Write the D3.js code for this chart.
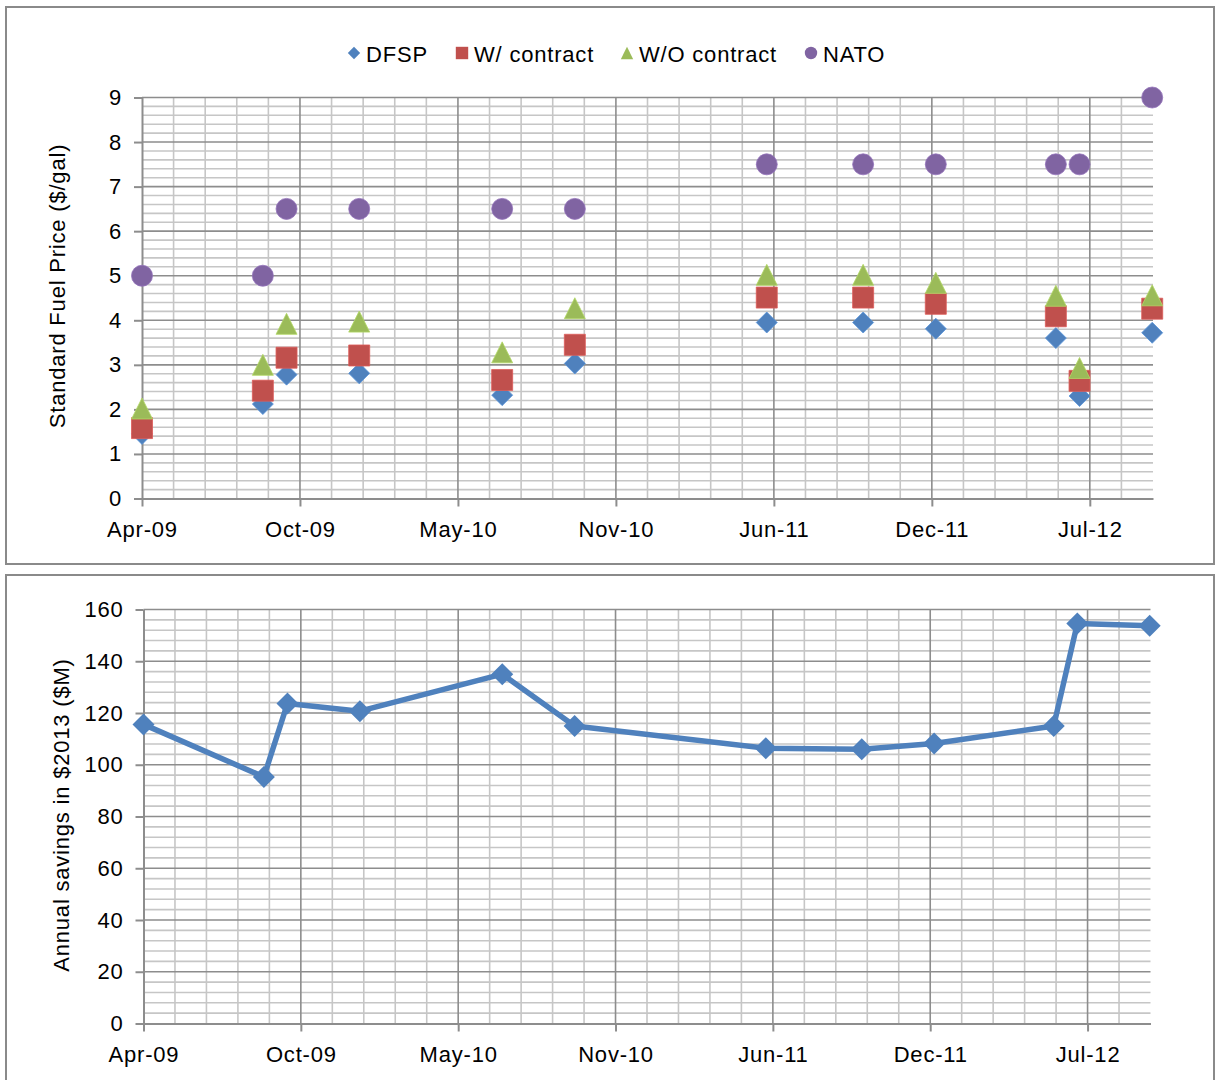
<!DOCTYPE html>
<html>
<head>
<meta charset="utf-8">
<script src="https://cdn.jsdelivr.net/npm/d3@7"></script>
<style>
  html, body { margin: 0; padding: 0; background: #fff; }
  svg text { font-family: "Liberation Sans", Arial, Helvetica, sans-serif; fill: #000; }
</style>
</head>
<body>
<svg id="chart" width="1217" height="1080"></svg>
<script>
// ---------------- DATA ----------------
const dates = ["2009-04-01","2009-09-01","2009-10-01","2010-01-01","2010-07-01","2010-10-01",
               "2011-06-01","2011-10-01","2012-01-01","2012-06-01","2012-07-01","2012-10-01"];
const dfsp       = [1.45, 2.12, 2.78, 2.81, 2.32, 3.03, 3.95, 3.95, 3.81, 3.60, 2.30, 3.72];
const withContract    = [1.58, 2.42, 3.16, 3.21, 2.66, 3.45, 4.51, 4.51, 4.37, 4.09, 2.64, 4.26];
const withoutContract = [2.02, 3.00, 3.92, 3.97, 3.28, 4.27, 5.02, 5.02, 4.84, 4.55, 2.93, 4.56];
const nato       = [5.0, 5.0, 6.5, 6.5, 6.5, 6.5, 7.5, 7.5, 7.5, 7.5, 7.5, 9.0];
const savings    = [115.6, 95.3, 123.7, 120.7, 135.0, 115.0, 106.4, 106.0, 108.2, 115.0, 154.6, 153.7];

const seriesNames = ["DFSP", "W/ contract", "W/O contract", "NATO"];
const xTickLabels = ["Apr-09","Oct-09","May-10","Nov-10","Jun-11","Dec-11","Jul-12"];
const priceTicks  = [0,1,2,3,4,5,6,7,8,9];
const savingTicks = [0,20,40,60,80,100,120,140,160];
const priceTitle  = "Standard Fuel Price ($/gal)";
const savingTitle = "Annual savings in $2013 ($M)";

// axis setup (Excel date axis: base in days)
const axisStart = "2009-04-01";
const axisSpanDays = 1280, majorDays = 200, minorDays = 40;

// ---------------- HELPERS ----------------
const DAY = 86400000;
const parse = d3.utcParse("%Y-%m-%d");
const t0 = parse(axisStart);
const t1 = new Date(t0.getTime() + axisSpanDays * DAY);
const majorDates = d3.range(0, axisSpanDays, majorDays).map(k => new Date(t0.getTime() + k * DAY));
const minorDates = d3.range(minorDays, axisSpanDays, minorDays).filter(k => k % majorDays !== 0)
                     .map(k => new Date(t0.getTime() + k * DAY));
const dateObjs = dates.map(parse);

const colors = { blue: "#4F81BD", red: "#C0504D", green: "#9BBB59", purple: "#8064A2" };
const MAJOR = "#8d8d8d", MINOR = "#c6c6c6";
const FONT = 22, LS = "0.8px";

const svg = d3.select("#chart");
svg.append("rect").attr("width", 1217).attr("height", 1080).attr("fill", "#fff");

// panel borders
svg.append("rect").attr("x", 6).attr("y", 7).attr("width", 1208).attr("height", 557)
   .attr("fill", "none").attr("stroke", "#8a8a8a").attr("stroke-width", 2);
svg.append("rect").attr("x", 6).attr("y", 575).attr("width", 1208).attr("height", 520)
   .attr("fill", "none").attr("stroke", "#8a8a8a").attr("stroke-width", 2);

function marker(type, s) {
  if (type === "diamond") return `M0,${-s}L${s},0L0,${s}L${-s},0Z`;
  if (type === "square") return `M${-s},${-s}H${s}V${s}H${-s}Z`;
  if (type === "triangle") return `M0,${-s}L${s},${s}L${-s},${s}Z`;
  return d3.arc()({innerRadius: 0, outerRadius: s, startAngle: 0, endAngle: 2 * Math.PI});
}

function drawPlot(g, x, y, yMajor, yMinorStep, yMax) {
  const [x0, x1] = x.range();
  const [yb, yt] = y.range();
  const yMinor = d3.range(0, yMax + 1e-9, yMinorStep).filter(v => !yMajor.some(m => Math.abs(m - v) < 1e-6));
  g.selectAll(".hmin").data(yMinor).join("line")
    .attr("x1", x0).attr("x2", x1).attr("y1", d => y(d)).attr("y2", d => y(d))
    .attr("stroke", MINOR).attr("stroke-width", 1.6);
  g.selectAll(".vmin").data(minorDates).join("line")
    .attr("x1", d => x(d)).attr("x2", d => x(d)).attr("y1", yb).attr("y2", yt)
    .attr("stroke", MINOR).attr("stroke-width", 1.6);
  g.selectAll(".hmaj").data(yMajor.filter(v => v > 0)).join("line")
    .attr("x1", x0).attr("x2", x1).attr("y1", d => y(d)).attr("y2", d => y(d))
    .attr("stroke", MAJOR).attr("stroke-width", 1.6);
  g.selectAll(".vmaj").data(majorDates.slice(1)).join("line")
    .attr("x1", d => x(d)).attr("x2", d => x(d)).attr("y1", yb).attr("y2", yt)
    .attr("stroke", MAJOR).attr("stroke-width", 1.6);

  const xa = g.append("g").attr("transform", `translate(0,${yb})`)
    .call(d3.axisBottom(x).tickValues(majorDates).tickFormat((d, i) => xTickLabels[i])
      .tickSize(8).tickSizeOuter(0).tickPadding(15));
  const ya = g.append("g").attr("transform", `translate(${x0},0)`)
    .call(d3.axisLeft(y).tickValues(yMajor).tickSize(8).tickSizeOuter(0).tickPadding(12));
  [xa, ya].forEach(a => {
    a.select(".domain").attr("stroke", MAJOR).attr("stroke-width", 2);
    a.selectAll(".tick line").attr("stroke", MAJOR).attr("stroke-width", 2);
    a.selectAll(".tick text").attr("font-size", FONT).style("letter-spacing", LS)
      .attr("fill", "#000").attr("font-family", "Liberation Sans, Arial, sans-serif");
  });
}

// ---------------- TOP CHART ----------------
const xTop = d3.scaleUtc().domain([t0, t1]).range([142, 1153]);
const yTop = d3.scaleLinear().domain([0, 9]).range([498.5, 97.5]);
const gTop = svg.append("g");
drawPlot(gTop, xTop, yTop, priceTicks, 0.2, 9);

const topSeries = [
  { name: seriesNames[0], vals: dfsp, color: colors.blue, shape: "diamond" },
  { name: seriesNames[1], vals: withContract, color: colors.red, shape: "square" },
  { name: seriesNames[2], vals: withoutContract, color: colors.green, shape: "triangle" },
  { name: seriesNames[3], vals: nato, color: colors.purple, shape: "circle" }
];
topSeries.forEach(s => {
  gTop.append("g").selectAll("path").data(s.vals).join("path")
    .attr("transform", (d, i) => `translate(${xTop(dateObjs[i])},${yTop(d)})`)
    .attr("d", marker(s.shape, 10.5))
    .attr("fill", s.color).attr("stroke", d3.color(s.color).brighter(0.4)).attr("stroke-width", 0.8);
});

// legend
const legendX = [354, 462, 627, 811];
const legend = svg.append("g");
topSeries.forEach((s, i) => {
  legend.append("path").attr("transform", `translate(${legendX[i]},53)`)
    .attr("d", marker(s.shape, 6.2)).attr("fill", s.color);
  legend.append("text").attr("x", legendX[i] + 12).attr("y", 54).attr("dy", "0.35em")
    .attr("font-size", FONT).style("letter-spacing", LS).text(s.name);
});

svg.append("text").attr("transform", "translate(57,286) rotate(-90)")
  .attr("text-anchor", "middle").attr("dy", "0.35em")
  .attr("font-size", FONT).style("letter-spacing", LS).text(priceTitle);

// ---------------- BOTTOM CHART ----------------
const xBot = d3.scaleUtc().domain([t0, t1]).range([143.5, 1150.5]);
const yBot = d3.scaleLinear().domain([0, 160]).range([1023.5, 609.5]);
const gBot = svg.append("g");
drawPlot(gBot, xBot, yBot, savingTicks, 4, 160);

gBot.append("path").datum(savings)
  .attr("d", d3.line().x((d, i) => xBot(dateObjs[i])).y(d => yBot(d)))
  .attr("fill", "none").attr("stroke", colors.blue).attr("stroke-width", 5.5)
  .attr("stroke-linejoin", "round");
gBot.append("g").selectAll("path").data(savings).join("path")
  .attr("transform", (d, i) => `translate(${xBot(dateObjs[i])},${yBot(d)})`)
  .attr("d", marker("diamond", 11)).attr("fill", colors.blue);

svg.append("text").attr("transform", "translate(61,815) rotate(-90)")
  .attr("text-anchor", "middle").attr("dy", "0.35em")
  .attr("font-size", FONT).style("letter-spacing", LS).text(savingTitle);
</script>
</body>
</html>
